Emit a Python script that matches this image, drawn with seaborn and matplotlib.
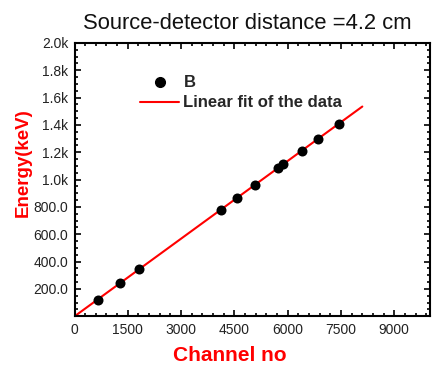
"""
Energy calibration: channel number vs. gamma energy with a linear fit.
"""
import numpy  as np
import matplotlib
matplotlib.use("Agg")
import matplotlib.pyplot as plt
import seaborn           as sns

from matplotlib.ticker import MultipleLocator, FuncFormatter
from matplotlib.lines  import Line2D


# ================================================================================
# Data
# ================================================================================
channel   = [655, 1285, 1812, 4115, 4580, 5085, 5728, 5860, 6405, 6855, 7435]
energy    = [121.8, 244.7, 344.3, 778.9, 867.4, 964.1, 1085.8, 1112.1, 1212.9, 1299.1, 1408.0]
fit_range = [0, 8100]   # channel range spanned by the fit line

title_txt = "Source-detector distance =4.2 cm"
x_label   = "Channel no"
y_label   = "Energy(keV)"
leg_pts   = "B"
leg_fit   = "Linear fit of the data"

# Linear fit
slope, intercept = np.polyfit(channel, energy, 1)
fit_x = np.array(fit_range, dtype=float)
fit_y = slope * fit_x + intercept

# ================================================================================
# Styling
# ================================================================================
sns.set_style("ticks")
plt.rcParams["font.family"] = ["Liberation Sans", "DejaVu Sans"]
RED = "#ff0000"

fig = plt.figure(figsize=(4.32, 3.65), dpi=100)
ax  = fig.add_axes([0.1725, 0.1334, 0.8225, 0.7488])

# --------------------------------------------------------------------------------
# Plot
# --------------------------------------------------------------------------------
sns.lineplot(x=fit_x, y=fit_y, color=RED, linewidth=1.5, ax=ax, zorder=2)
sns.scatterplot(x=channel, y=energy, color="black", s=52, edgecolor="black",
                linewidth=0, ax=ax, zorder=3)

ax.set_xlim(0, 10000)
ax.set_ylim(0, 2000)

# Ticks
ax.xaxis.set_major_locator(MultipleLocator(1500))
ax.xaxis.set_minor_locator(MultipleLocator(300))
ax.yaxis.set_major_locator(MultipleLocator(200))
ax.yaxis.set_minor_locator(MultipleLocator(50))

def y_fmt(v, pos):
    if v <= 0: return ""
    if v >= 1000: return f"{v/1000:.1f}k"
    return f"{v:.1f}"

ax.yaxis.set_major_formatter(FuncFormatter(y_fmt))
ax.xaxis.set_major_formatter(FuncFormatter(lambda v, p: f"{v:.0f}"))

ax.tick_params(which="both", direction="in", top=True, right=True,
               labeltop=False, labelright=False, colors="black", width=1.2)
ax.tick_params(which="major", length=4, labelsize=10, labelcolor="#222222")
ax.tick_params(axis="x", which="major", pad=5)
ax.tick_params(axis="y", which="major", pad=4.5)
ax.tick_params(which="minor", length=2.2)

for sp in ax.spines.values():
    sp.set_linewidth(1.5)
    sp.set_color("black")
    sp.set_visible(True)

# Labels
ax.set_xlabel(x_label, color=RED, fontsize=15, fontweight="bold")
ax.set_ylabel(y_label, color=RED, fontsize=13.5, fontweight="bold")
ax.xaxis.set_label_coords(0.437, -0.108)
ax.yaxis.set_label_coords(-0.12, 0.561)
ax.set_title(title_txt, fontsize=15.8, pad=10, color="#111111", x=0.487)

# Legend
handles = [
    Line2D([], [], marker="o", linestyle="none", color="black", markersize=7),
    Line2D([], [], color=RED, linewidth=1.5),
]
ax.legend(handles, [leg_pts, leg_fit], loc="upper left", bbox_to_anchor=(0.161, 0.912),
          frameon=False, borderpad=0, handlelength=2.35, handletextpad=0.25,
          labelspacing=0.3, prop={"weight": "bold", "size": 12})

fig.savefig("out.png", dpi=100)
